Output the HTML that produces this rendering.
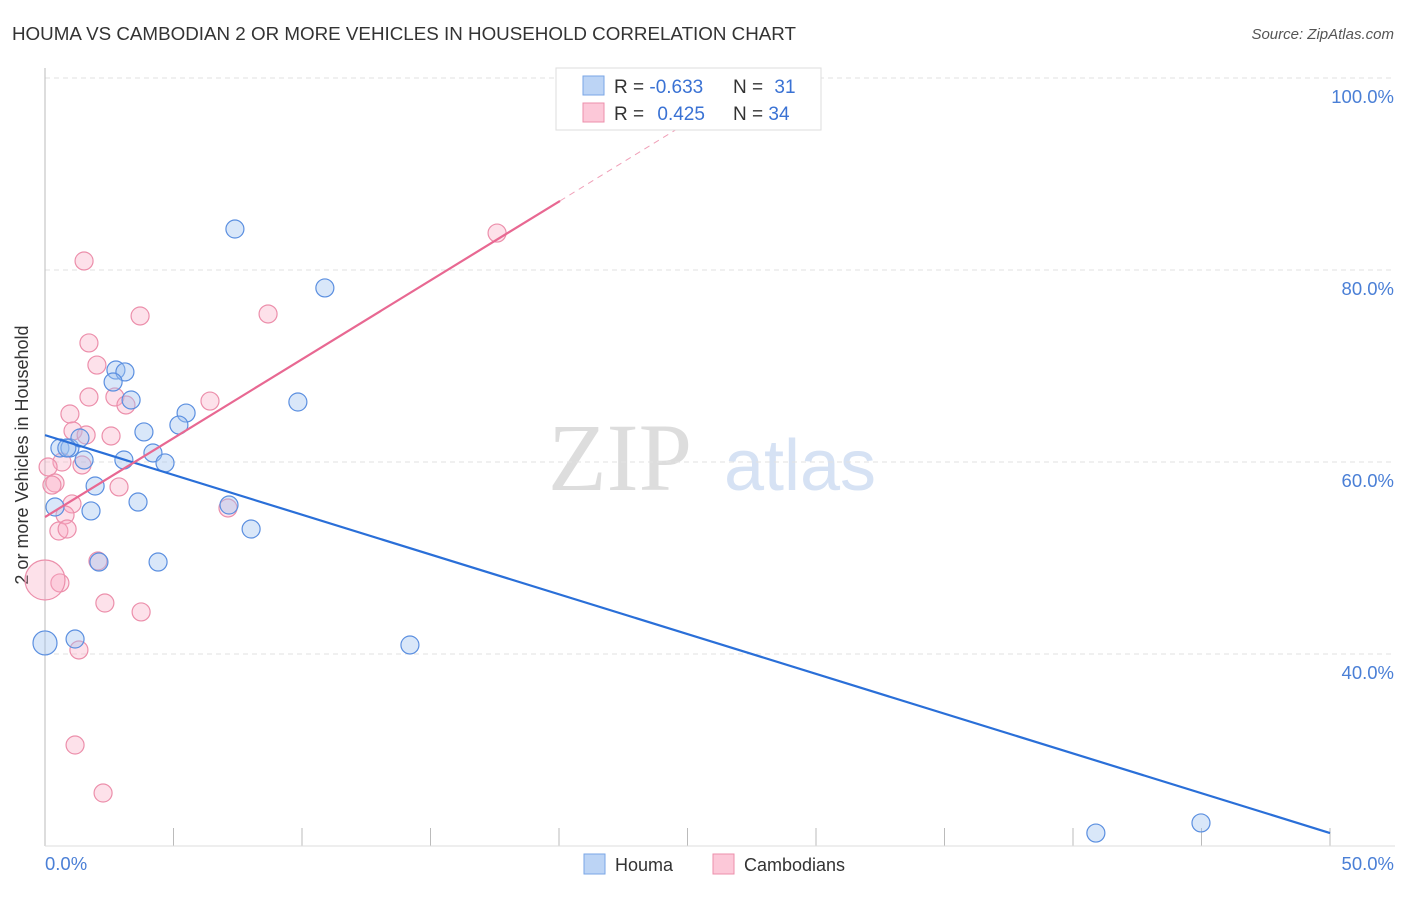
<!DOCTYPE html>
<html><head><meta charset="utf-8"><style>
body{margin:0;background:#fff;font-family:"Liberation Sans",sans-serif}
</style></head><body>
<svg width="1406" height="892">
<text x="12" y="40" font-size="18" fill="#333" textLength="784" lengthAdjust="spacingAndGlyphs">HOUMA VS CAMBODIAN 2 OR MORE VEHICLES IN HOUSEHOLD CORRELATION CHART</text>
<text x="1394" y="39" font-size="15" fill="#555" font-style="italic" text-anchor="end">Source: ZipAtlas.com</text>
<text x="620" y="490" font-size="96" fill="#ddd" font-family="Liberation Serif" text-anchor="middle">ZIP</text>
<text x="800" y="490" font-size="72" fill="#d6e2f4" text-anchor="middle">atlas</text>
<g id="grid"></g><g id="ticks"></g>
<line x1="45" y1="68" x2="45" y2="846" stroke="#bbb"/>
<line x1="45" y1="846" x2="1395" y2="846" stroke="#ddd"/>
<text x="28" y="455" font-size="18" fill="#333" text-anchor="middle" transform="rotate(-90 28 455)">2 or more Vehicles in Household</text>
<text x="45" y="870" font-size="18.5" fill="#4a7fd6">0.0%</text>
<text x="1394" y="870" font-size="18.5" fill="#4a7fd6" text-anchor="end">50.0%</text>
<g id="pts"></g><g id="lines"></g>
<g>
<rect x="556" y="68" width="265" height="62" fill="#fff" stroke="#ddd"/>
<rect x="583" y="76" width="21" height="19" fill="#bcd4f5" stroke="#7aa6e6"/>
<rect x="583" y="103" width="21" height="19" fill="#fcc8d8" stroke="#ec8fab"/>
<text x="614" y="93" font-size="19" fill="#333">R = <tspan fill="#3a72d4">-0.633</tspan></text>
<text x="733" y="93" font-size="19" fill="#333">N = <tspan fill="#3a72d4" dx="6">31</tspan></text>
<text x="614" y="120" font-size="19" fill="#333">R = <tspan fill="#3a72d4" dx="8">0.425</tspan></text>
<text x="733" y="120" font-size="19" fill="#333">N = <tspan fill="#3a72d4">34</tspan></text>
</g>
<g>
<rect x="584" y="854" width="21" height="20" fill="#bcd4f5" stroke="#7aa6e6"/>
<text x="615" y="871" font-size="18" fill="#333">Houma</text>
<rect x="713" y="854" width="21" height="20" fill="#fcc8d8" stroke="#ec8fab"/>
<text x="744" y="871" font-size="18" fill="#333">Cambodians</text>
</g>
</svg>
<script>
const yTicks=[40,60,80,100];
const xTicks=[0,5,10,15,20,25,30,35,40,45,50];
const houmaX=[7.39,10.89,9.84,2.76,3.11,2.65,3.35,5.49,5.21,3.85,0.58,0.97,1.36,1.52,3.07,4.20,4.67,1.95,3.62,1.79,0.39,7.16,8.02,2.10,4.40,1.17,0,14.20,40.89,44.98,0.85];
const houmaY=[84.27,78.13,66.25,69.58,69.38,68.33,66.46,65.10,63.85,63.13,61.46,61.46,62.50,60.21,60.21,60.94,59.90,57.50,55.83,54.90,55.31,55.52,53.02,49.58,49.58,41.56,41.15,40.94,21.35,22.40,61.46];
const cambX=[1.52,3.70,8.68,17.59,1.71,2.02,1.71,2.72,3.15,6.42,0.97,1.09,1.60,2.57,0.66,1.44,0.12,0.39,0.27,2.88,1.05,0.78,0.54,0.86,2.06,7.12,0.58,2.33,3.74,1.32,1.17,2.26,0];
const cambY=[80.94,75.21,75.42,83.85,72.40,70.10,66.77,66.77,65.94,66.35,65.00,63.23,62.81,62.71,60.00,59.69,59.48,57.81,57.60,57.40,55.63,54.48,52.81,53.02,49.69,55.21,47.40,45.31,44.38,40.42,30.52,25.52,47.71];
const houmaLine=[[0,62.8],[50,21.35]];
const cambLine=[[0,54.27],[20.04,87.2]];
const cambDash=[[20.04,87.2],[26,97]];
const NS='http://www.w3.org/2000/svg';
const X=v=>45+v*25.7, Y=v=>846-(v-20)*9.6;
function mk(p,t,a){const e=document.createElementNS(NS,t);for(const k in a)e.setAttribute(k,a[k]);document.getElementById(p).appendChild(e);return e;}
yTicks.forEach(t=>{const l=mk('grid','line',{x1:45,x2:1395,y1:Y(t),y2:Y(t),stroke:'#e2e2e2','stroke-dasharray':'5,4'});


const s=mk('grid','text',{x:1394,y:Y(t)+25,'font-size':18.5,fill:'#4a7fd6','text-anchor':'end'});s.textContent=t.toFixed(1)+'%';

});
xTicks.forEach(t=>{const l=mk('ticks','line',{x1:X(t),x2:X(t),y1:828,y2:846,stroke:'#bbb'});

});
function dots(xs,ys,f,s,n){xs.forEach((x,i)=>{const big=(x===0);const c=mk('pts','circle',{cx:X(x),cy:Y(ys[i]),r:big?(n==='camb'?20:12):9,fill:f,stroke:s,'stroke-width':1.2});

});}
dots(cambX,cambY,'rgba(248,170,195,0.35)','#ec8fab','camb');
dots(houmaX,houmaY,'rgba(160,195,240,0.4)','#5b8fe0','houma');
const a=mk('lines','line',{x1:X(houmaLine[0][0]),y1:Y(houmaLine[0][1]),x2:X(houmaLine[1][0]),y2:Y(houmaLine[1][1]),stroke:'#2a6fd8','stroke-width':2.2});


const b=mk('lines','line',{x1:X(cambLine[0][0]),y1:Y(cambLine[0][1]),x2:X(cambLine[1][0]),y2:Y(cambLine[1][1]),stroke:'#e86892','stroke-width':2.2});


const c=mk('lines','line',{x1:X(cambDash[0][0]),y1:Y(cambDash[0][1]),x2:X(cambDash[1][0]),y2:Y(cambDash[1][1]),stroke:'#f0a0b8','stroke-width':1,'stroke-dasharray':'6,5'});


</script>
</body></html>
